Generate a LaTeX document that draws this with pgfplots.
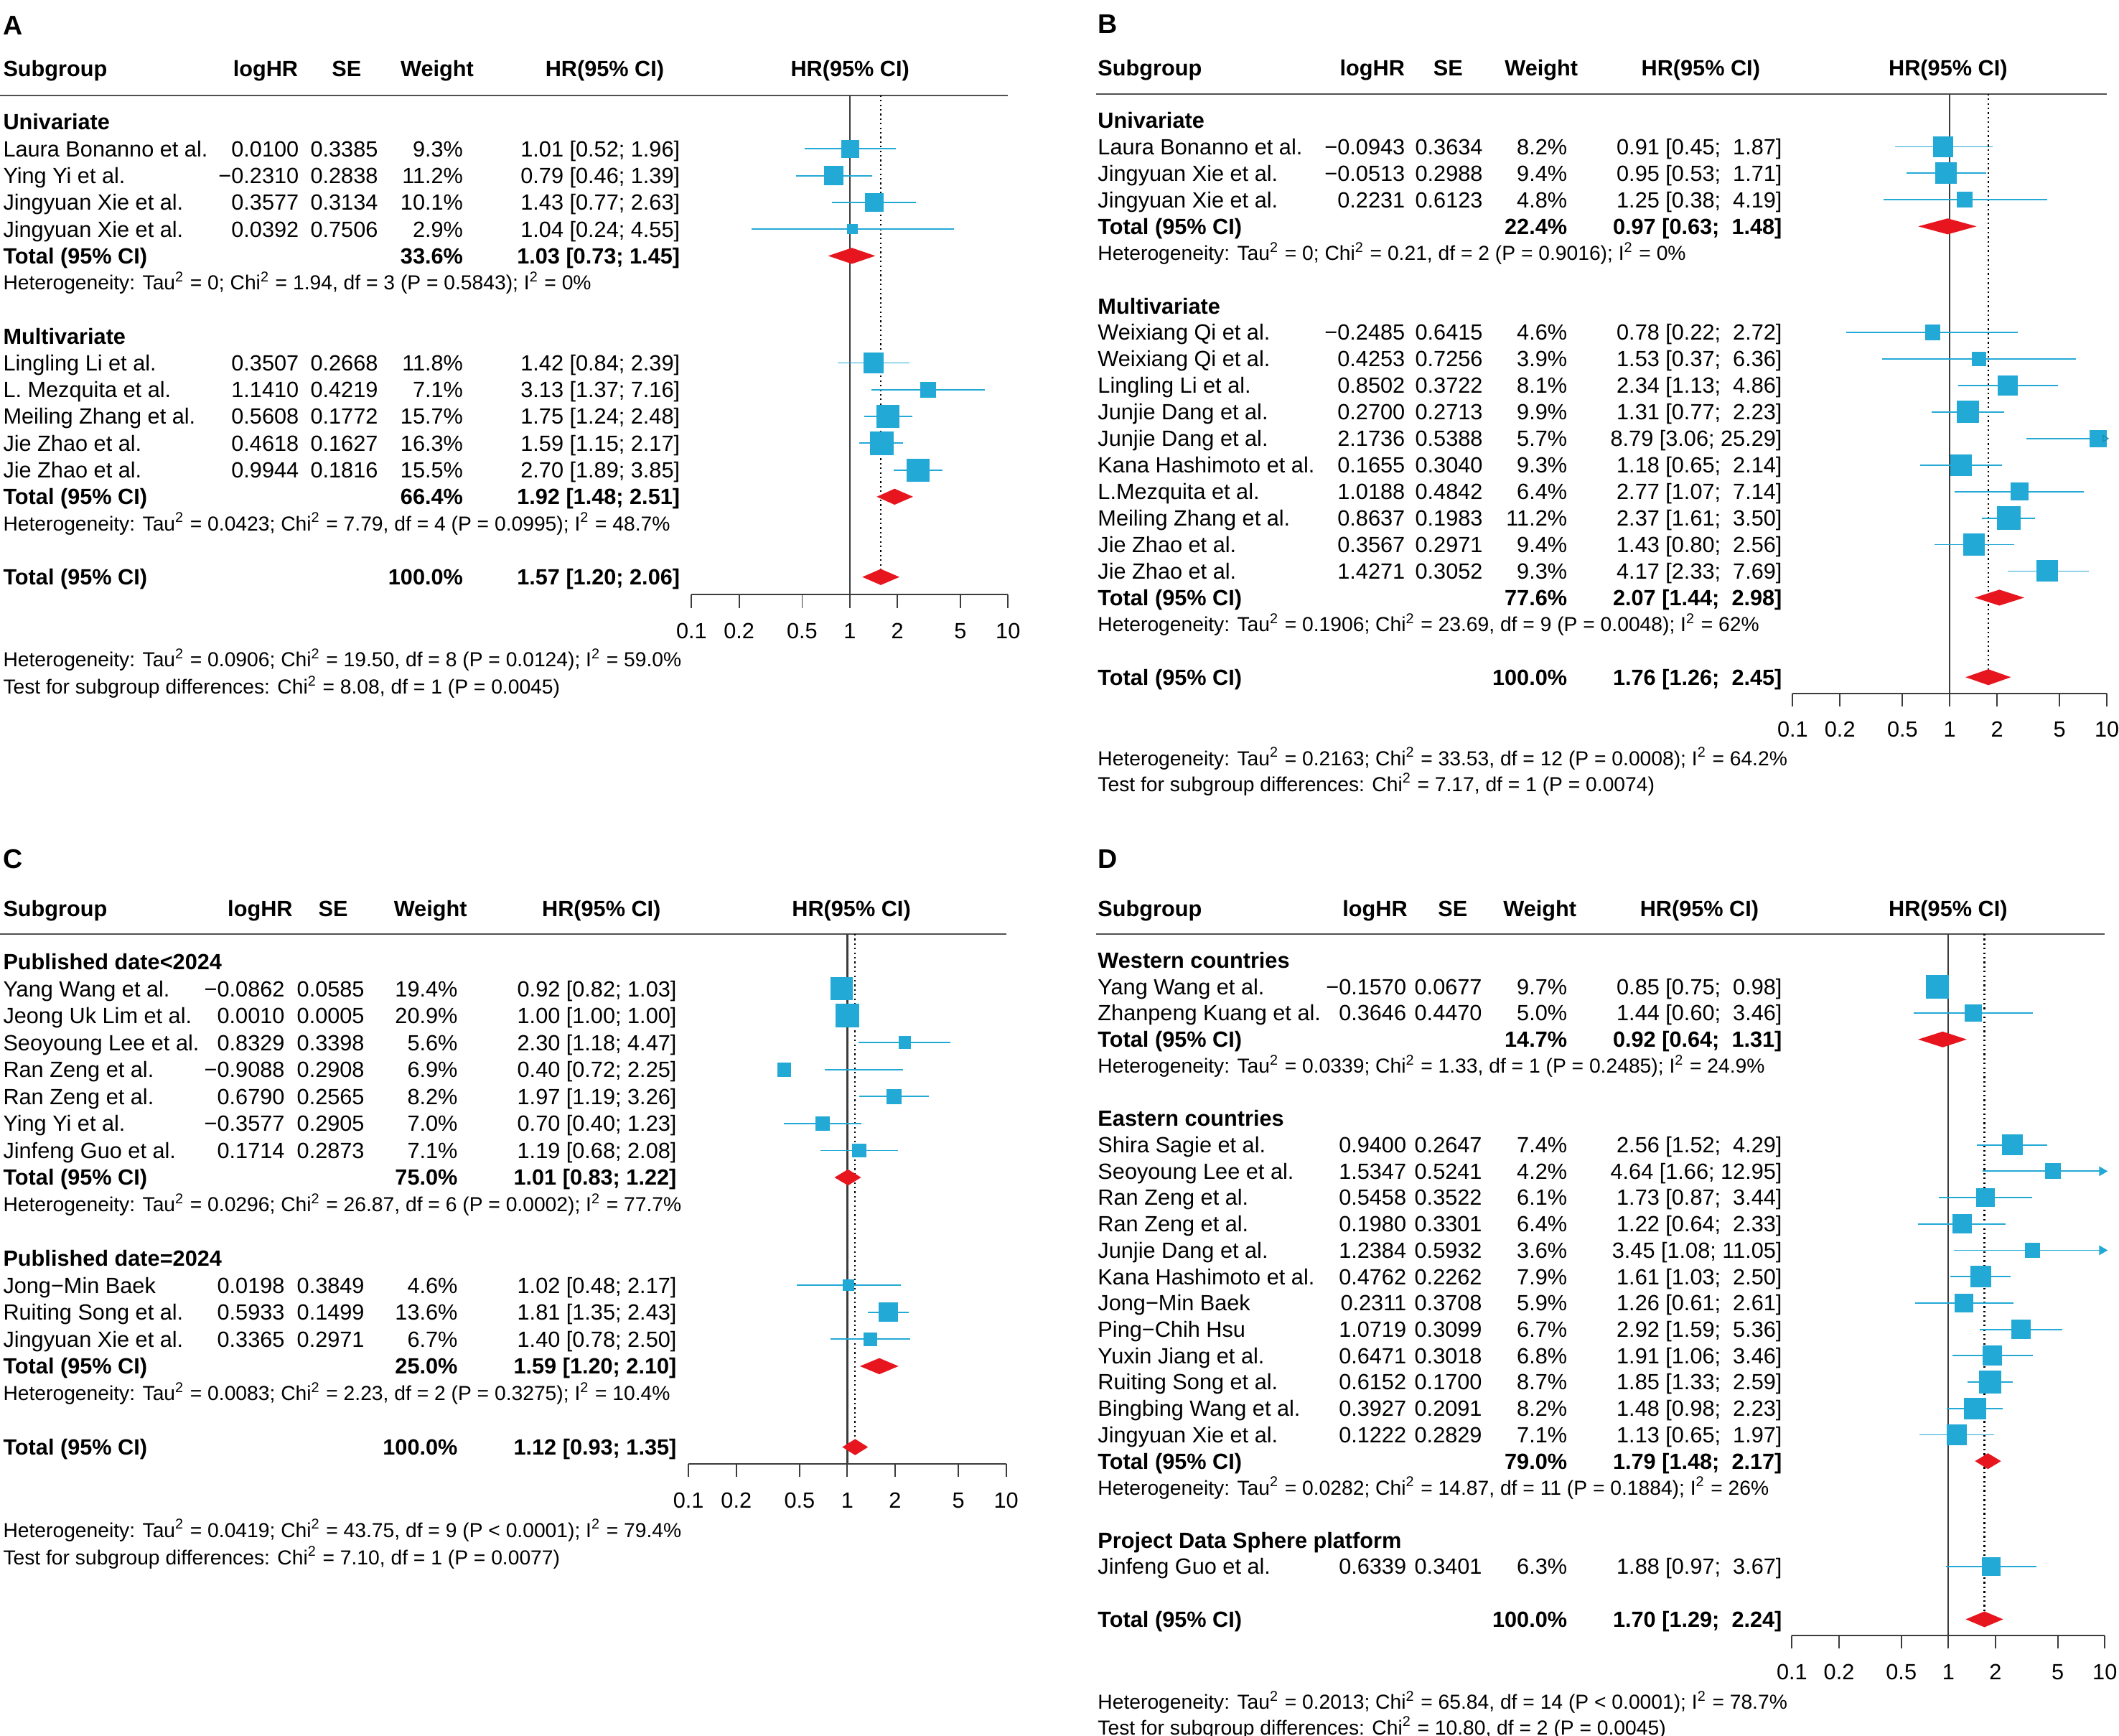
\documentclass[border=0pt]{standalone}
\usepackage{fontspec}
\setmainfont{Liberation Sans}
\usepackage{pgfplots}
\pgfplotsset{compat=1.18}

\definecolor{sqblue}{RGB}{35,169,214}
\definecolor{dred}{RGB}{231,22,30}
\definecolor{axgray}{RGB}{60,60,60}
\definecolor{hgray}{RGB}{80,80,80}

\newcommand\fmain{\fontsize{8.15pt}{9.8pt}\selectfont}
\newcommand\fhet{\fontsize{7.5pt}{9pt}\selectfont}
\newcommand\fbig{\fontsize{10pt}{12pt}\selectfont\bfseries}
\newcommand\sqr{\textsuperscript{2}}

\tikzset{
  tl/.style={anchor=base west,inner sep=0pt,font=\fmain},
  tr/.style={anchor=base east,inner sep=0pt,font=\fmain},
  tlb/.style={anchor=base west,inner sep=0pt,font=\fmain\bfseries},
  trb/.style={anchor=base east,inner sep=0pt,font=\fmain\bfseries},
  tc/.style={anchor=base,inner sep=0pt,font=\fmain\bfseries},
  hetn/.style={anchor=base west,inner sep=0pt,font=\fhet},
  lab/.style={anchor=base west,inner sep=0pt,font=\fbig},
  hline/.style={hgray,line width=0.5pt},
}

\pgfplotsset{
  forestax/.style={scale only axis,anchor=south west,
    xmin=0.1,xmax=10,clip=false,
    axis x line*=bottom,axis y line=none,
    xtick={0.1,0.2,0.5,1,2,5,10},xticklabels={0.1,0.2,0.5,1,2,5,10},
    minor xtick={},ytick=\empty,
    tick align=outside,major tick length=4.85pt,
    every tick/.style={axgray,line width=0.5pt},
    axis line style={axgray,line width=0.5pt},
    xticklabel style={font=\fmain,anchor=base,inner sep=0pt,yshift=-11.4pt}},
  ciline/.style={sqblue,line width=0.5pt,forget plot},
  arrowhead/.style={only marks,mark=triangle*,mark size=1.7pt,
    mark options={rotate=-90,draw=sqblue,fill=sqblue},forget plot},
  refline/.style={axgray,line width=0.6pt,forget plot},
  dotline/.style={black,line width=0.6pt,dash pattern=on 0.6pt off 1.1pt,forget plot},
  diam/.style={fill=dred,draw=none,forget plot},
  sqmark/.style={only marks,mark=square*,scatter,
    scatter/use mapped color={draw=sqblue,fill=sqblue},
    visualization depends on={4.15*sqrt(\thisrow{w}/\wmax) \as \msz},
    scatter/@pre marker code/.append style={/tikz/mark size=\msz},forget plot},
}

\newcommand\Yr[1]{\yz+(#1)*\dy+5.8}
\newcommand\frow[6]{%
  \node[tl] at (\cN,{\Yr{#1}}) {#2};
  \node[tr] at (\cL,{\Yr{#1}}) {#3};
  \node[tr] at (\cS,{\Yr{#1}}) {#4};
  \node[tr] at (\cW,{\Yr{#1}}) {#5};
  \node[tr] at (\cH,{\Yr{#1}}) {#6};}
\newcommand\ftot[3]{%
  \node[tlb] at (\cN,{\Yr{#1}}) {Total (95\% CI)};
  \node[trb] at (\cW,{\Yr{#1}}) {#2};
  \node[trb] at (\cH,{\Yr{#1}}) {#3};}
\newcommand\fgrp[2]{\node[tlb] at (\cN,{\Yr{#1}}) {#2};}
\newcommand\fhetl[2]{\node[hetn] at (\cN,{\yz+(#1)*\dy+5.4}) {#2};}
\newcommand\fhdr[6]{%
  \node[tlb] at (\cN,{#1+5.8}) {Subgroup};
  \node[tc] at (#2,{#1+5.8}) {logHR};
  \node[tc] at (#3,{#1+5.8}) {SE};
  \node[tc] at (#4,{#1+5.8}) {Weight};
  \node[tc] at (#5,{#1+5.8}) {HR(95\% CI)};
  \node[tc] at (#6,{#1+5.8}) {HR(95\% CI)};}

\begin{document}
\begin{tikzpicture}[x=0.5pt,y=-0.5pt]
\useasboundingbox (0,0) rectangle (1568,1284);

% ================= Panel A =================
\def\yz{90.3}\def\dy{19.8}
\def\cN{2}\def\cL{221.5}\def\cS{280}\def\cW{343}\def\cH{503.5}
\node[lab] at (2,{18.5+7.2}) {A};
\fhdr{51}{196.5}{256.5}{323.5}{447.5}{629}
\draw[hline] (0,70.5) -- (745.9,70.5);
\fgrp{0}{Univariate}
\frow{1}{Laura Bonanno et al.}{0.0100}{0.3385}{9.3\%}{1.01 [0.52; 1.96]}
\frow{2}{Ying Yi et al.}{−0.2310}{0.2838}{11.2\%}{0.79 [0.46; 1.39]}
\frow{3}{Jingyuan Xie et al.}{0.3577}{0.3134}{10.1\%}{1.43 [0.77; 2.63]}
\frow{4}{Jingyuan Xie et al.}{0.0392}{0.7506}{2.9\%}{1.04 [0.24; 4.55]}
\ftot{5}{33.6\%}{1.03 [0.73; 1.45]}
\fhetl{6}{Heterogeneity: Tau\sqr{} = 0; Chi\sqr{} = 1.94, df = 3 (P = 0.5843); I\sqr{} = 0\%}
\fgrp{8}{Multivariate}
\frow{9}{Lingling Li et al.}{0.3507}{0.2668}{11.8\%}{1.42 [0.84; 2.39]}
\frow{10}{L. Mezquita et al.}{1.1410}{0.4219}{7.1\%}{3.13 [1.37; 7.16]}
\frow{11}{Meiling Zhang et al.}{0.5608}{0.1772}{15.7\%}{1.75 [1.24; 2.48]}
\frow{12}{Jie Zhao et al.}{0.4618}{0.1627}{16.3\%}{1.59 [1.15; 2.17]}
\frow{13}{Jie Zhao et al.}{0.9944}{0.1816}{15.5\%}{2.70 [1.89; 3.85]}
\ftot{14}{66.4\%}{1.92 [1.48; 2.51]}
\fhetl{15}{Heterogeneity: Tau\sqr{} = 0.0423; Chi\sqr{} = 7.79, df = 4 (P = 0.0995); I\sqr{} = 48.7\%}
\ftot{17}{100.0\%}{1.57 [1.20; 2.06]}
\node[hetn] at (2,{488+5.4}) {Heterogeneity: Tau\sqr{} = 0.0906; Chi\sqr{} = 19.50, df = 8 (P = 0.0124); I\sqr{} = 59.0\%};
\node[hetn] at (2,{508+5.4}) {Test for subgroup differences: Chi\sqr{} = 8.08, df = 1 (P = 0.0045)};

\def\wmax{16.3}
\begin{semilogxaxis}[forestax,at={(255.85pt,-220pt)},width=117.1pt,height=184.75pt,ymin=-17.662,ymax=1.0]
\addplot[refline] coordinates {(1,1.0) (1,-17.662)};
\addplot[dotline] coordinates {(1.57,1.0) (1.57,-17)};
\addplot[ciline] coordinates {(0.52,-1) (1.96,-1)};
\addplot[ciline] coordinates {(0.46,-2) (1.39,-2)};
\addplot[ciline] coordinates {(0.77,-3) (2.63,-3)};
\addplot[ciline] coordinates {(0.24,-4) (4.55,-4)};
\addplot[ciline] coordinates {(0.84,-9) (2.39,-9)};
\addplot[ciline] coordinates {(1.37,-10) (7.16,-10)};
\addplot[ciline] coordinates {(1.24,-11) (2.48,-11)};
\addplot[ciline] coordinates {(1.15,-12) (2.17,-12)};
\addplot[ciline] coordinates {(1.89,-13) (3.85,-13)};
\addplot[sqmark] table[x=hr,y expr=-\thisrow{k}] {
hr k w
1.01 1 9.3
0.79 2 11.2
1.43 3 10.1
1.04 4 2.9
1.42 9 11.8
3.13 10 7.1
1.75 11 15.7
1.59 12 16.3
2.70 13 15.5
};
\addplot[diam] coordinates {(0.73,-5) (1.03,-4.7) (1.45,-5) (1.03,-5.3) (0.73,-5)};
\addplot[diam] coordinates {(1.48,-14) (1.92,-13.7) (2.51,-14) (1.92,-14.3) (1.48,-14)};
\addplot[diam] coordinates {(1.20,-17) (1.57,-16.7) (2.06,-17) (1.57,-17.3) (1.20,-17)};
\end{semilogxaxis}

% ================= Panel B =================
\def\yz{89}\def\dy{19.62}
\def\cN{812}\def\cL{1040}\def\cS{1097.5}\def\cW{1160}\def\cH{1319}
\node[lab] at (812,{17.5+7.2}) {B};
\fhdr{50}{1015.5}{1071.5}{1140.5}{1258.5}{1441.5}
\draw[hline] (811,69.5) -- (1559,69.5);
\fgrp{0}{Univariate}
\frow{1}{Laura Bonanno et al.}{−0.0943}{0.3634}{8.2\%}{0.91 [0.45; \ 1.87]}
\frow{2}{Jingyuan Xie et al.}{−0.0513}{0.2988}{9.4\%}{0.95 [0.53; \ 1.71]}
\frow{3}{Jingyuan Xie et al.}{0.2231}{0.6123}{4.8\%}{1.25 [0.38; \ 4.19]}
\ftot{4}{22.4\%}{0.97 [0.63; \ 1.48]}
\fhetl{5}{Heterogeneity: Tau\sqr{} = 0; Chi\sqr{} = 0.21, df = 2 (P = 0.9016); I\sqr{} = 0\%}
\fgrp{7}{Multivariate}
\frow{8}{Weixiang Qi et al.}{−0.2485}{0.6415}{4.6\%}{0.78 [0.22; \ 2.72]}
\frow{9}{Weixiang Qi et al.}{0.4253}{0.7256}{3.9\%}{1.53 [0.37; \ 6.36]}
\frow{10}{Lingling Li et al.}{0.8502}{0.3722}{8.1\%}{2.34 [1.13; \ 4.86]}
\frow{11}{Junjie Dang et al.}{0.2700}{0.2713}{9.9\%}{1.31 [0.77; \ 2.23]}
\frow{12}{Junjie Dang et al.}{2.1736}{0.5388}{5.7\%}{8.79 [3.06; 25.29]}
\frow{13}{Kana Hashimoto et al.}{0.1655}{0.3040}{9.3\%}{1.18 [0.65; \ 2.14]}
\frow{14}{L.Mezquita et al.}{1.0188}{0.4842}{6.4\%}{2.77 [1.07; \ 7.14]}
\frow{15}{Meiling Zhang et al.}{0.8637}{0.1983}{11.2\%}{2.37 [1.61; \ 3.50]}
\frow{16}{Jie Zhao et al.}{0.3567}{0.2971}{9.4\%}{1.43 [0.80; \ 2.56]}
\frow{17}{Jie Zhao et al.}{1.4271}{0.3052}{9.3\%}{4.17 [2.33; \ 7.69]}
\ftot{18}{77.6\%}{2.07 [1.44; \ 2.98]}
\fhetl{19}{Heterogeneity: Tau\sqr{} = 0.1906; Chi\sqr{} = 23.69, df = 9 (P = 0.0048); I\sqr{} = 62\%}
\ftot{21}{100.0\%}{1.76 [1.26; \ 2.45]}
\node[hetn] at (812,{561+5.4}) {Heterogeneity: Tau\sqr{} = 0.2163; Chi\sqr{} = 33.53, df = 12 (P = 0.0008); I\sqr{} = 64.2\%};
\node[hetn] at (812,{580+5.4}) {Test for subgroup differences: Chi\sqr{} = 7.17, df = 1 (P = 0.0074)};

\def\wmax{11.2}
\begin{semilogxaxis}[forestax,at={(663.25pt,-256.5pt)},width=116.25pt,height=221.75pt,ymin=-21.611,ymax=0.994]
\addplot[refline] coordinates {(1,0.994) (1,-21.611)};
\addplot[dotline] coordinates {(1.76,0.994) (1.76,-21)};
\addplot[ciline] coordinates {(0.45,-1) (1.87,-1)};
\addplot[ciline] coordinates {(0.53,-2) (1.71,-2)};
\addplot[ciline] coordinates {(0.38,-3) (4.19,-3)};
\addplot[ciline] coordinates {(0.22,-8) (2.72,-8)};
\addplot[ciline] coordinates {(0.37,-9) (6.36,-9)};
\addplot[ciline] coordinates {(1.13,-10) (4.86,-10)};
\addplot[ciline] coordinates {(0.77,-11) (2.23,-11)};
\addplot[ciline] coordinates {(3.06,-12) (10,-12)};
\addplot[ciline] coordinates {(0.65,-13) (2.14,-13)};
\addplot[ciline] coordinates {(1.07,-14) (7.14,-14)};
\addplot[ciline] coordinates {(1.61,-15) (3.50,-15)};
\addplot[ciline] coordinates {(0.80,-16) (2.56,-16)};
\addplot[ciline] coordinates {(2.33,-17) (7.69,-17)};
\addplot[sqmark] table[x=hr,y expr=-\thisrow{k}] {
hr k w
0.91 1 8.2
0.95 2 9.4
1.25 3 4.8
0.78 8 4.6
1.53 9 3.9
2.34 10 8.1
1.31 11 9.9
8.79 12 5.7
1.18 13 9.3
2.77 14 6.4
2.37 15 11.2
1.43 16 9.4
4.17 17 9.3
};
\addplot[only marks,mark=triangle,mark size=1.3pt,mark options={rotate=-90,draw=sqblue!80!black,line width=0.3pt},forget plot] coordinates {(9.7,-12)};
\addplot[diam] coordinates {(0.63,-4) (0.97,-3.7) (1.48,-4) (0.97,-4.3) (0.63,-4)};
\addplot[diam] coordinates {(1.44,-18) (2.07,-17.7) (2.98,-18) (2.07,-18.3) (1.44,-18)};
\addplot[diam] coordinates {(1.26,-21) (1.76,-20.7) (2.45,-21) (1.76,-21.3) (1.26,-21)};
\end{semilogxaxis}

% ================= Panel C =================
\def\yz{711.5}\def\dy{19.95}
\def\cN{2}\def\cL{211}\def\cS{270}\def\cW{339}\def\cH{501}
\node[lab] at (2,{635+7.2}) {C};
\fhdr{672}{192.5}{246.5}{318.5}{445}{630}
\draw[hline] (0,691) -- (744.5,691);
\fgrp{0}{Published date<2024}
\frow{1}{Yang Wang et al.}{−0.0862}{0.0585}{19.4\%}{0.92 [0.82; 1.03]}
\frow{2}{Jeong Uk Lim et al.}{0.0010}{0.0005}{20.9\%}{1.00 [1.00; 1.00]}
\frow{3}{Seoyoung Lee et al.}{0.8329}{0.3398}{5.6\%}{2.30 [1.18; 4.47]}
\frow{4}{Ran Zeng et al.}{−0.9088}{0.2908}{6.9\%}{0.40 [0.72; 2.25]}
\frow{5}{Ran Zeng et al.}{0.6790}{0.2565}{8.2\%}{1.97 [1.19; 3.26]}
\frow{6}{Ying Yi et al.}{−0.3577}{0.2905}{7.0\%}{0.70 [0.40; 1.23]}
\frow{7}{Jinfeng Guo et al.}{0.1714}{0.2873}{7.1\%}{1.19 [0.68; 2.08]}
\ftot{8}{75.0\%}{1.01 [0.83; 1.22]}
\fhetl{9}{Heterogeneity: Tau\sqr{} = 0.0296; Chi\sqr{} = 26.87, df = 6 (P = 0.0002); I\sqr{} = 77.7\%}
\fgrp{11}{Published date=2024}
\frow{12}{Jong−Min Baek}{0.0198}{0.3849}{4.6\%}{1.02 [0.48; 2.17]}
\frow{13}{Ruiting Song et al.}{0.5933}{0.1499}{13.6\%}{1.81 [1.35; 2.43]}
\frow{14}{Jingyuan Xie et al.}{0.3365}{0.2971}{6.7\%}{1.40 [0.78; 2.50]}
\ftot{15}{25.0\%}{1.59 [1.20; 2.10]}
\fhetl{16}{Heterogeneity: Tau\sqr{} = 0.0083; Chi\sqr{} = 2.23, df = 2 (P = 0.3275); I\sqr{} = 10.4\%}
\ftot{18}{100.0\%}{1.12 [0.93; 1.35]}
\node[hetn] at (2,{1132+5.4}) {Heterogeneity: Tau\sqr{} = 0.0419; Chi\sqr{} = 43.75, df = 9 (P < 0.0001); I\sqr{} = 79.4\%};
\node[hetn] at (2,{1152+5.4}) {Test for subgroup differences: Chi\sqr{} = 7.10, df = 1 (P = 0.0077)};

\def\wmax{20.9}
\begin{semilogxaxis}[forestax,at={(254.75pt,-541.5pt)},width=117.5pt,height=196pt,ymin=-18.622,ymax=1.028]
\addplot[refline] coordinates {(1,1.028) (1,-18.622)};
\addplot[dotline] coordinates {(1.12,1.028) (1.12,-18)};
\addplot[ciline] coordinates {(0.82,-1) (1.03,-1)};
\addplot[ciline] coordinates {(1.18,-3) (4.47,-3)};
\addplot[ciline] coordinates {(0.72,-4) (2.25,-4)};
\addplot[ciline] coordinates {(1.19,-5) (3.26,-5)};
\addplot[ciline] coordinates {(0.40,-6) (1.23,-6)};
\addplot[ciline] coordinates {(0.68,-7) (2.08,-7)};
\addplot[ciline] coordinates {(0.48,-12) (2.17,-12)};
\addplot[ciline] coordinates {(1.35,-13) (2.43,-13)};
\addplot[ciline] coordinates {(0.78,-14) (2.50,-14)};
\addplot[sqmark] table[x=hr,y expr=-\thisrow{k}] {
hr k w
0.92 1 19.4
1.00 2 20.9
2.30 3 5.6
0.40 4 6.9
1.97 5 8.2
0.70 6 7.0
1.19 7 7.1
1.02 12 4.6
1.81 13 13.6
1.40 14 6.7
};
\addplot[diam] coordinates {(0.83,-8) (1.01,-7.7) (1.22,-8) (1.01,-8.3) (0.83,-8)};
\addplot[diam] coordinates {(1.20,-15) (1.59,-14.7) (2.10,-15) (1.59,-15.3) (1.20,-15)};
\addplot[diam] coordinates {(0.93,-18) (1.12,-17.7) (1.35,-18) (1.12,-18.3) (0.93,-18)};
\end{semilogxaxis}

% ================= Panel D =================
\def\yz{710.5}\def\dy{19.5}
\def\cN{812}\def\cL{1041}\def\cS{1097}\def\cW{1160}\def\cH{1319}
\node[lab] at (812,{635+7.2}) {D};
\fhdr{672}{1017.5}{1075}{1139.5}{1257.5}{1441.5}
\draw[hline] (811,691) -- (1557.5,691);
\fgrp{0}{Western countries}
\frow{1}{Yang Wang et al.}{−0.1570}{0.0677}{9.7\%}{0.85 [0.75; \ 0.98]}
\frow{2}{Zhanpeng Kuang et al.}{0.3646}{0.4470}{5.0\%}{1.44 [0.60; \ 3.46]}
\ftot{3}{14.7\%}{0.92 [0.64; \ 1.31]}
\fhetl{4}{Heterogeneity: Tau\sqr{} = 0.0339; Chi\sqr{} = 1.33, df = 1 (P = 0.2485); I\sqr{} = 24.9\%}
\fgrp{6}{Eastern countries}
\frow{7}{Shira Sagie et al.}{0.9400}{0.2647}{7.4\%}{2.56 [1.52; \ 4.29]}
\frow{8}{Seoyoung Lee et al.}{1.5347}{0.5241}{4.2\%}{4.64 [1.66; 12.95]}
\frow{9}{Ran Zeng et al.}{0.5458}{0.3522}{6.1\%}{1.73 [0.87; \ 3.44]}
\frow{10}{Ran Zeng et al.}{0.1980}{0.3301}{6.4\%}{1.22 [0.64; \ 2.33]}
\frow{11}{Junjie Dang et al.}{1.2384}{0.5932}{3.6\%}{3.45 [1.08; 11.05]}
\frow{12}{Kana Hashimoto et al.}{0.4762}{0.2262}{7.9\%}{1.61 [1.03; \ 2.50]}
\frow{13}{Jong−Min Baek}{0.2311}{0.3708}{5.9\%}{1.26 [0.61; \ 2.61]}
\frow{14}{Ping−Chih Hsu}{1.0719}{0.3099}{6.7\%}{2.92 [1.59; \ 5.36]}
\frow{15}{Yuxin Jiang et al.}{0.6471}{0.3018}{6.8\%}{1.91 [1.06; \ 3.46]}
\frow{16}{Ruiting Song et al.}{0.6152}{0.1700}{8.7\%}{1.85 [1.33; \ 2.59]}
\frow{17}{Bingbing Wang et al.}{0.3927}{0.2091}{8.2\%}{1.48 [0.98; \ 2.23]}
\frow{18}{Jingyuan Xie et al.}{0.1222}{0.2829}{7.1\%}{1.13 [0.65; \ 1.97]}
\ftot{19}{79.0\%}{1.79 [1.48; \ 2.17]}
\fhetl{20}{Heterogeneity: Tau\sqr{} = 0.0282; Chi\sqr{} = 14.87, df = 11 (P = 0.1884); I\sqr{} = 26\%}
\fgrp{22}{Project Data Sphere platform}
\frow{23}{Jinfeng Guo et al.}{0.6339}{0.3401}{6.3\%}{1.88 [0.97; \ 3.67]}
\ftot{25}{100.0\%}{1.70 [1.29; \ 2.24]}
\node[hetn] at (812,{1259+5.4}) {Heterogeneity: Tau\sqr{} = 0.2013; Chi\sqr{} = 65.84, df = 14 (P < 0.0001); I\sqr{} = 78.7\%};
\node[hetn] at (812,{1278+5.4}) {Test for subgroup differences: Chi\sqr{} = 10.80, df = 2 (P = 0.0045)};

\def\wmax{9.7}
\begin{semilogxaxis}[forestax,at={(663pt,-605pt)},width=115.75pt,height=259.5pt,ymin=-25.615,ymax=1.0]
\addplot[refline] coordinates {(1,1.0) (1,-25.615)};
\addplot[dotline] coordinates {(1.70,1.0) (1.70,-25)};
\addplot[ciline] coordinates {(0.75,-1) (0.98,-1)};
\addplot[ciline] coordinates {(0.60,-2) (3.46,-2)};
\addplot[ciline] coordinates {(1.52,-7) (4.29,-7)};
\addplot[ciline] coordinates {(1.66,-8) (10,-8)};
\addplot[ciline] coordinates {(0.87,-9) (3.44,-9)};
\addplot[ciline] coordinates {(0.64,-10) (2.33,-10)};
\addplot[ciline] coordinates {(1.08,-11) (10,-11)};
\addplot[ciline] coordinates {(1.03,-12) (2.50,-12)};
\addplot[ciline] coordinates {(0.61,-13) (2.61,-13)};
\addplot[ciline] coordinates {(1.59,-14) (5.36,-14)};
\addplot[ciline] coordinates {(1.06,-15) (3.46,-15)};
\addplot[ciline] coordinates {(1.33,-16) (2.59,-16)};
\addplot[ciline] coordinates {(0.98,-17) (2.23,-17)};
\addplot[ciline] coordinates {(0.65,-18) (1.97,-18)};
\addplot[ciline] coordinates {(0.97,-23) (3.67,-23)};
\addplot[arrowhead] coordinates {(9.6,-8) (9.6,-11)};
\addplot[sqmark] table[x=hr,y expr=-\thisrow{k}] {
hr k w
0.85 1 9.7
1.44 2 5.0
2.56 7 7.4
4.64 8 4.2
1.73 9 6.1
1.22 10 6.4
3.45 11 3.6
1.61 12 7.9
1.26 13 5.9
2.92 14 6.7
1.91 15 6.8
1.85 16 8.7
1.48 17 8.2
1.13 18 7.1
1.88 23 6.3
};
\addplot[diam] coordinates {(0.64,-3) (0.92,-2.7) (1.31,-3) (0.92,-3.3) (0.64,-3)};
\addplot[diam] coordinates {(1.48,-19) (1.79,-18.7) (2.17,-19) (1.79,-19.3) (1.48,-19)};
\addplot[diam] coordinates {(1.29,-25) (1.70,-24.7) (2.24,-25) (1.70,-25.3) (1.29,-25)};
\end{semilogxaxis}
\end{tikzpicture}
\end{document}
